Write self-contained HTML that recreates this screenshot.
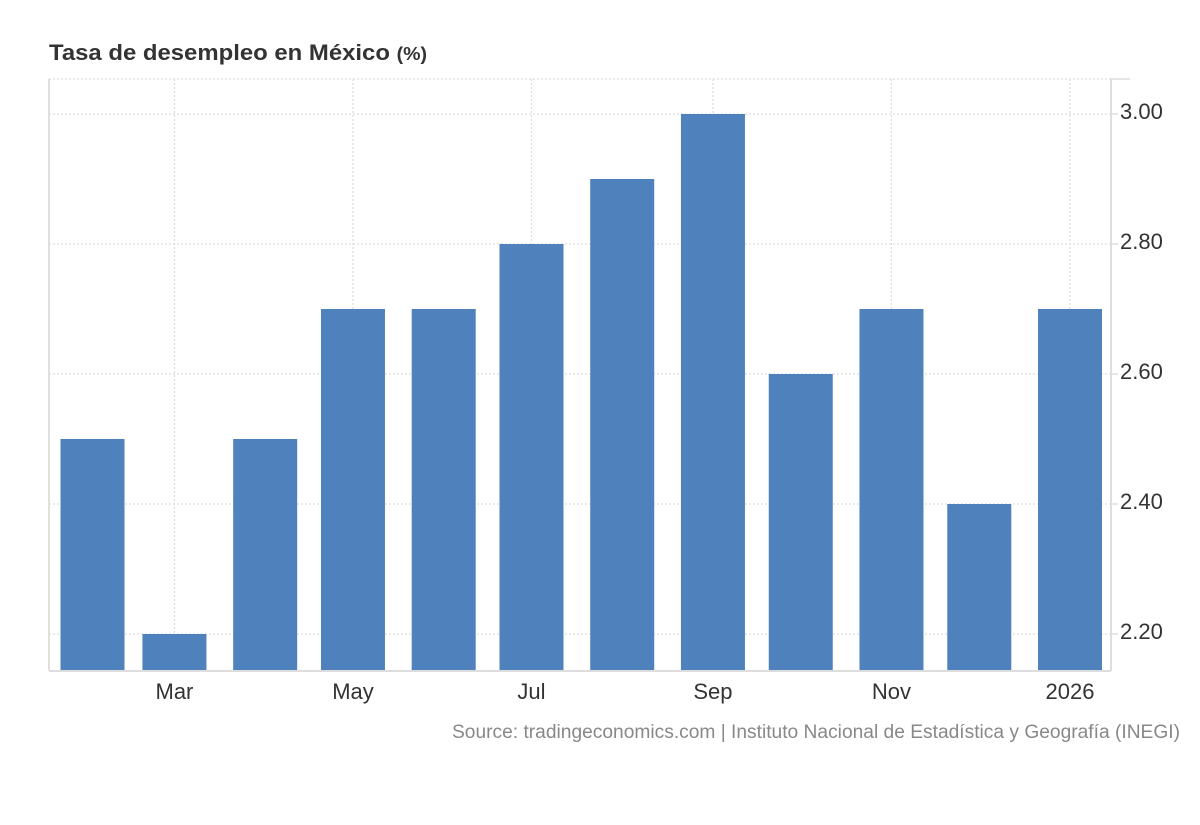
<!DOCTYPE html>
<html><head><meta charset="utf-8">
<style>
html,body{margin:0;padding:0;background:#fff;}
body{width:1200px;height:820px;overflow:hidden;font-family:"Liberation Sans",Arial,sans-serif;}
</style></head>
<body>
<svg id="chart" width="1200" height="820" xmlns="http://www.w3.org/2000/svg">
<text x="49" y="60" font-family="Liberation Sans, sans-serif" font-size="22" font-weight="bold" fill="#333" textLength="378" lengthAdjust="spacingAndGlyphs">Tasa de desempleo en México <tspan font-size="18">(%)</tspan></text>
<g id="grid"></g>
<g id="bars"></g>
<g id="axes"></g>
<text x="1180" y="738" text-anchor="end" font-size="19" fill="#888" textLength="728" lengthAdjust="spacingAndGlyphs">Source: tradingeconomics.com | Instituto Nacional de Estadística y Geografía (INEGI)</text>
</svg>
<script>
const months = ["2025-02-01","2025-03-01","2025-04-01","2025-05-01","2025-06-01","2025-07-01","2025-08-01","2025-09-01","2025-10-01","2025-11-01","2025-12-01","2026-01-01"];
const values = [2.5,2.2,2.5,2.7,2.7,2.8,2.9,3.0,2.6,2.7,2.4,2.7];
const yTicks = [2.2,2.4,2.6,2.8,3.0];
const xTickDates = ["2025-03-01","2025-05-01","2025-07-01","2025-09-01","2025-11-01","2026-01-01"];
const xTickLabels = ["Mar","May","Jul","Sep","Nov","2026"];

const NS="http://www.w3.org/2000/svg";
const t0=Date.parse("2025-02-01"), t1=Date.parse("2026-01-01");
function xS(d){return 92.5+(Date.parse(d)-t0)/(t1-t0)*977.5;}
function yS(v){return 634-(v-2.2)*650;}
const L=49,R=1111,T=79,B=671;
function mk(tag,attrs,parent){const e=document.createElementNS(NS,tag);for(const k in attrs)e.setAttribute(k,attrs[k]);parent.appendChild(e);return e;}
const grid=document.getElementById('grid'),bars=document.getElementById('bars'),axes=document.getElementById('axes');
[T].concat(yTicks.map(yS)).forEach(y=>{
  const l=mk('line',{x1:L,x2:R,y1:y,y2:y,stroke:'#ddd','stroke-width':1.3,'stroke-dasharray':'2,2'},grid);
  
  
});
xTickDates.forEach(d=>{
  const x=xS(d);
  const l=mk('line',{x1:x,x2:x,y1:T,y2:B,stroke:'#ddd','stroke-width':1.3,'stroke-dasharray':'2,2'},grid);
  
  
});
months.forEach((m,i)=>{
  const x=xS(m),y=yS(values[i]);
  const r=mk('rect',{x:x-32,y:y,width:64,height:B-1-y,fill:'#4f81bd'},bars);
  
  
});
const la=mk('line',{x1:L,x2:L,y1:T,y2:B,stroke:'#e0e0e0','stroke-width':2},axes);


const xa=mk('line',{x1:L,x2:R,y1:B,y2:B,stroke:'#ddd','stroke-width':2},axes);


const ya=mk('line',{x1:R,x2:R,y1:T,y2:B,stroke:'#ddd','stroke-width':2},axes);


mk('line',{x1:R,x2:1130,y1:T,y2:T,stroke:'#ddd','stroke-width':1.5},axes);
yTicks.forEach(v=>{
  const y=yS(v);
  mk('line',{x1:R,x2:1118,y1:y,y2:y,stroke:'#ddd','stroke-width':1.5},axes);
  const t=mk('text',{x:1120,y:y+5,'font-size':22,fill:'#333'},axes);
  t.textContent=v.toFixed(2);
  
  
});
xTickDates.forEach((d,i)=>{
  const t=mk('text',{x:xS(d),y:699,'font-size':22,fill:'#333','text-anchor':'middle'},axes);
  t.textContent=xTickLabels[i];
  
  
});
</script>
</body></html>
